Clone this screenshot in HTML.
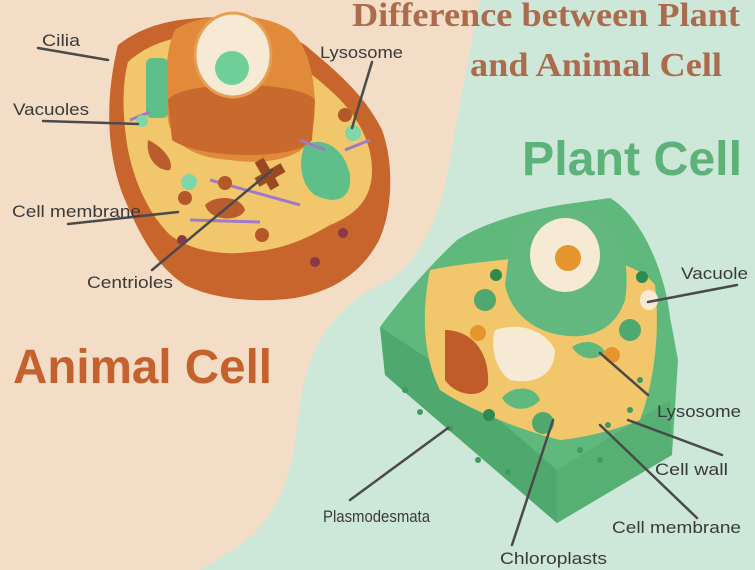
<!DOCTYPE html>
<html><head><meta charset="utf-8"><style>
html,body{margin:0;padding:0;width:755px;height:570px;overflow:hidden;background:#f4ddc6}
svg{display:block}
.l{font-family:"Liberation Sans",sans-serif;font-size:17px;fill:#3a3a3a}
.ln{stroke:#4a4a4a;stroke-width:2.5;fill:none;stroke-linecap:round}
</style></head><body>
<svg width="755" height="570" viewBox="0 0 755 570" xmlns="http://www.w3.org/2000/svg">
<rect width="755" height="570" fill="#f4ddc6"/>
<path d="M480,0 C470,50 460,100 450,160 C440,220 420,265 380,285 C330,310 305,350 298,420 C292,480 275,520 240,545 L200,570 L755,570 L755,0 Z" fill="#cde7d9"/>

<!-- Animal cell -->
<path d="M118,45 C140,28 165,20 200,18 C240,14 280,28 305,45 C335,70 365,95 382,130 C395,165 392,215 378,242 C360,275 330,292 295,298 C260,303 215,300 185,285 C155,265 140,235 125,200 C110,165 102,110 118,45Z" fill="#c7652d"/>
<path d="M128,62 C150,42 180,34 215,35 C260,40 300,62 330,90 C355,112 372,140 372,170 C372,200 355,215 330,225 C305,240 280,250 250,252 C220,256 190,250 170,235 C150,215 135,185 128,150 C122,115 122,85 128,62Z" fill="#f2c76b"/>
<path d="M175,30 C200,12 260,10 290,30 C315,50 320,110 310,140 C300,160 260,165 230,160 C195,158 172,145 168,120 C164,90 165,50 175,30Z" fill="#e08a3a"/>
<path d="M168,100 C180,80 300,80 315,100 L312,140 C300,160 200,160 172,140Z" fill="#c9692e"/>
<ellipse cx="233" cy="55" rx="38" ry="42" fill="#f6ead4" stroke="#e6a054" stroke-width="3"/>
<circle cx="232" cy="68" r="17" fill="#6fcf98"/>
<rect x="146" y="58" width="22" height="60" rx="6" fill="#5fbf88"/>
<path d="M305,145 C325,135 345,150 350,175 C352,200 335,205 315,195 C300,185 298,160 305,145Z" fill="#5fbf88"/>
<rect x="262" y="158" width="10" height="32" transform="rotate(-30 267 174)" fill="#9a4a22"/>
<rect x="255" y="170" width="30" height="10" transform="rotate(-30 270 175)" fill="#9a4a22"/>
<path d="M148,140 C160,145 175,160 170,170 C160,172 145,160 148,140Z" fill="#b95c2e"/>
<path d="M205,205 C215,195 240,195 245,210 C240,222 210,222 205,205Z" fill="#b95c2e"/>
<path d="M210,180 L300,205 M190,220 L260,222 M300,140 L325,150 M130,120 L150,112 M345,150 L370,140" stroke="#a07ac8" stroke-width="3"/>
<circle cx="189" cy="182" r="8" fill="#7fd6a8"/><circle cx="353" cy="133" r="8" fill="#7fd6a8"/><circle cx="142" cy="121" r="6" fill="#7fd6a8"/>
<circle cx="225" cy="183" r="7" fill="#b4582a"/><circle cx="185" cy="198" r="7" fill="#b4582a"/><circle cx="262" cy="235" r="7" fill="#b4582a"/><circle cx="345" cy="115" r="7" fill="#b4582a"/>
<circle cx="182" cy="240" r="5" fill="#8a3a45"/><circle cx="315" cy="262" r="5" fill="#8a3a45"/><circle cx="343" cy="233" r="5" fill="#8a3a45"/>

<!-- Plant cell -->
<path d="M457,240 C480,225 520,212 560,205 L610,198 C640,215 665,270 670,317 L678,360 L672,455 L557,523 L385,375 L380,327 C400,300 430,265 457,240Z" fill="#5fb97c"/>
<path d="M380,327 L385,375 L557,523 L557,470 L430,360Z" fill="#4fa86d"/>
<path d="M557,470 L557,523 L672,455 L670,400Z" fill="#56b074"/>
<path d="M430,270 C470,262 520,258 560,255 C600,255 640,265 655,285 C660,330 655,380 640,420 C610,432 580,438 560,440 C520,430 470,410 440,390 C425,360 420,320 430,270Z" fill="#f2c76b"/>
<path d="M510,245 C520,215 560,205 590,212 C625,225 630,270 625,300 C615,330 590,340 560,335 C530,330 510,310 505,285Z" fill="#62b87e"/>
<ellipse cx="565" cy="255" rx="35" ry="37" fill="#f6ead4"/>
<circle cx="568" cy="258" r="13" fill="#e5942e"/>
<path d="M495,330 C520,322 545,330 555,350 C555,375 535,385 510,380 C495,370 490,345 495,330Z" fill="#f6ead4"/>
<path d="M445,330 C470,330 490,350 488,385 C480,400 455,395 445,380Z" fill="#c05c2a"/>
<circle cx="485" cy="300" r="11" fill="#4fa86d"/><circle cx="630" cy="330" r="11" fill="#4fa86d"/><circle cx="543" cy="423" r="11" fill="#4fa86d"/>
<path d="M502,398 C512,385 535,385 540,400 C530,412 510,412 502,398Z" fill="#5fb97c"/>
<path d="M572,347 C585,338 600,342 605,352 C595,362 580,360 572,347Z" fill="#5fb97c"/>
<ellipse cx="649" cy="300" rx="9" ry="10" fill="#f6ead4"/>
<circle cx="612" cy="355" r="8" fill="#e5942e"/><circle cx="478" cy="333" r="8" fill="#e5942e"/>
<circle cx="496" cy="275" r="6" fill="#2f8a4f"/><circle cx="642" cy="277" r="6" fill="#2f8a4f"/><circle cx="489" cy="415" r="6" fill="#2f8a4f"/>
<g fill="#3f9a5e"><circle cx="405" cy="390" r="3"/><circle cx="420" cy="412" r="3"/><circle cx="450" cy="428" r="3"/><circle cx="478" cy="460" r="3"/><circle cx="508" cy="472" r="3"/><circle cx="580" cy="450" r="3"/><circle cx="608" cy="425" r="3"/><circle cx="630" cy="410" r="3"/><circle cx="640" cy="380" r="3"/><circle cx="600" cy="460" r="3"/></g>

<!-- leader lines -->
<path class="ln" d="M38,48 L108,60 M43,121 L138,124 M68,224 L178,212 M152,270 L272,170 M372,62 L352,128 M737,285 L648,302 M648,395 L600,353 M722,455 L628,420 M697,518 L600,425 M350,500 L448,428 M512,545 L553,420"/>

<!-- labels -->
<text class="l" x="42" y="46" textLength="38" lengthAdjust="spacingAndGlyphs">Cilia</text>
<text class="l" x="13" y="115" textLength="76" lengthAdjust="spacingAndGlyphs">Vacuoles</text>
<text class="l" x="12" y="217" textLength="129" lengthAdjust="spacingAndGlyphs">Cell membrane</text>
<text class="l" x="87" y="288" textLength="86" lengthAdjust="spacingAndGlyphs">Centrioles</text>
<text class="l" x="320" y="58" textLength="83" lengthAdjust="spacingAndGlyphs">Lysosome</text>
<text class="l" x="681" y="279" textLength="67" lengthAdjust="spacingAndGlyphs">Vacuole</text>
<text class="l" x="657" y="417" textLength="84" lengthAdjust="spacingAndGlyphs">Lysosome</text>
<text class="l" x="655" y="475" textLength="73" lengthAdjust="spacingAndGlyphs">Cell wall</text>
<text class="l" x="612" y="533" textLength="129" lengthAdjust="spacingAndGlyphs">Cell membrane</text>
<text class="l" x="323" y="522" textLength="107" lengthAdjust="spacingAndGlyphs">Plasmodesmata</text>
<text class="l" x="500" y="564" textLength="107" lengthAdjust="spacingAndGlyphs">Chloroplasts</text>

<text x="352" y="26" textLength="388" lengthAdjust="spacingAndGlyphs" font-family="Liberation Serif,serif" font-weight="bold" font-size="34" fill="#ab6b4d">Difference between Plant</text>
<text x="470" y="76" textLength="252" lengthAdjust="spacingAndGlyphs" font-family="Liberation Serif,serif" font-weight="bold" font-size="34" fill="#ab6b4d">and Animal Cell</text>
<text x="522" y="175" textLength="220" lengthAdjust="spacingAndGlyphs" font-family="Liberation Sans,sans-serif" font-weight="bold" font-size="48" fill="#5db27a">Plant Cell</text>
<text x="13" y="383" textLength="259" lengthAdjust="spacingAndGlyphs" font-family="Liberation Sans,sans-serif" font-weight="bold" font-size="48" fill="#c4612e">Animal Cell</text>
</svg>
</body></html>
